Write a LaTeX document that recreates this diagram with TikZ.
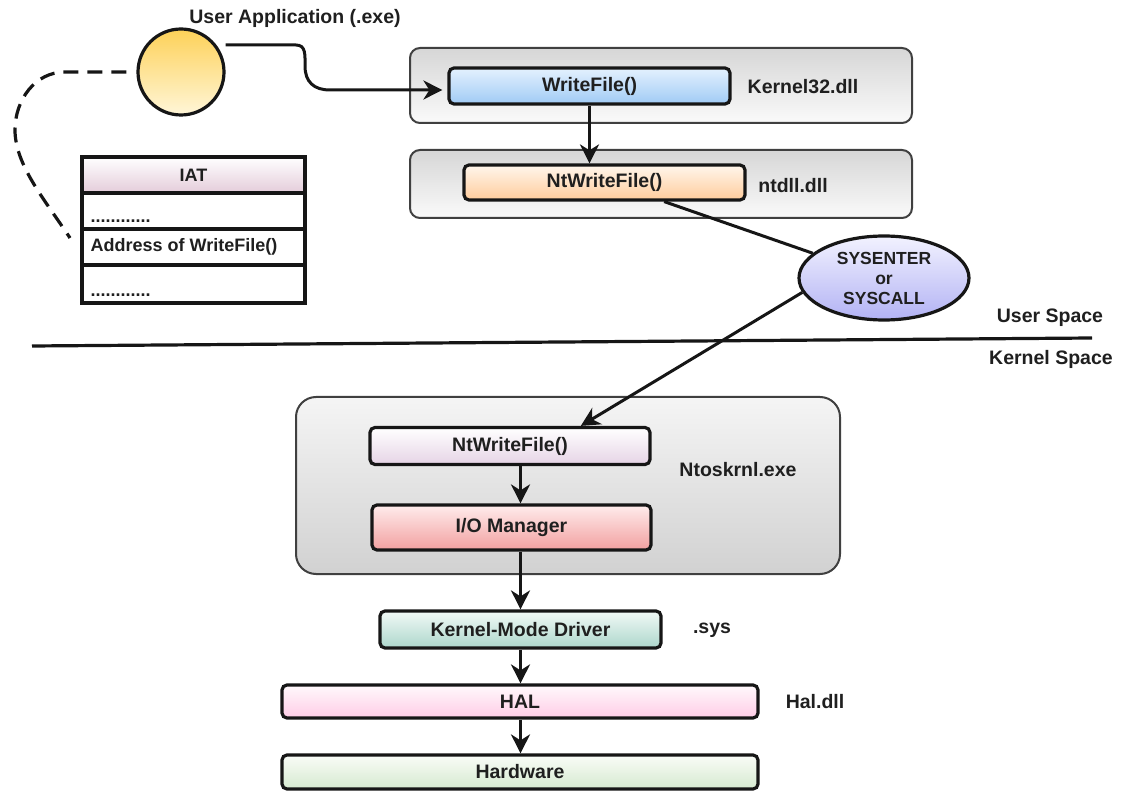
\documentclass[tikz,border=0pt]{standalone}
\usepackage{fontspec}
\setmainfont{Liberation Sans}
\usetikzlibrary{arrows.meta,calc,shapes.geometric}
\definecolor{ink}{HTML}{161616}
\definecolor{txt}{HTML}{1F1F1F}
\begin{document}
\begin{tikzpicture}[x=1pt,y=-1pt,
  lbl/.style={font=\fontsize{19.5}{23}\selectfont\bfseries, text=txt, inner sep=0pt},
  outerbox/.style={draw=black!75, line width=2pt, rounded corners=10pt, inner sep=0pt},
  fnbox/.style={draw=ink, line width=3.2pt, rounded corners=5pt, inner sep=0pt,
    font=\fontsize{19.5}{23}\selectfont\bfseries, text=txt},
  iatrow/.style={draw=ink, line width=3.2pt, inner sep=0pt, minimum width=223pt},
  arr/.style={draw=ink, line width=3pt, -{Stealth[length=19pt,width=19pt,inset=6pt]}},
  plainlink/.style={draw=ink, line width=3pt},
  dashlink/.style={draw=ink, line width=3.2pt, dash pattern=on 15pt off 9pt}
]
\useasboundingbox (0,0) rectangle (1128,791);

% ---- outer containers
\node[outerbox, top color=black!16, bottom color=black!2, minimum width=502pt, minimum height=75pt] (k32box) at (661,85.5) {};
\node[outerbox, top color=black!16, bottom color=black!2, minimum width=502pt, minimum height=68pt] (ntdllbox) at (661,184) {};
\node[outerbox, rounded corners=20pt, top color=black!4, bottom color=black!18, minimum width=544pt, minimum height=177pt] (ntosbox) at (568,485.5) {};

% ---- user application
\node[circle, draw=ink, line width=3.2pt, minimum size=86pt, inner sep=0pt,
  top color={rgb,255:red,253;green,209;blue,88}, bottom color={rgb,255:red,255;green,246;blue,216}] (app) at (181,72) {};
\node[lbl] (applbl) at (295,18) {User Application (.exe)};

% ---- IAT table
\node[iatrow, minimum height=36pt, top color=white, bottom color={rgb,255:red,228;green,204;blue,218}, font=\fontsize{18}{22}\selectfont\bfseries, text=txt] (iathead) at (193.5,175) {IAT};
\node[iatrow, minimum height=36pt, fill=white] (iatr1) at (193.5,211) {};
\node[iatrow, minimum height=36pt, fill=white] (iatr2) at (193.5,247) {};
\node[iatrow, minimum height=38pt, fill=white] (iatr3) at (193.5,284) {};
\node[lbl, font=\fontsize{18}{22}\selectfont\bfseries, anchor=base west] (dots1) at ($(iatr1.south west)+(10,-8)$) {............};
\node[lbl, font=\fontsize{18}{22}\selectfont\bfseries, anchor=west] (addr) at ($(iatr2.west)+(10,0)$) {Address of WriteFile()};
\node[lbl, font=\fontsize{18}{22}\selectfont\bfseries, anchor=base west] (dots2) at ($(iatr3.south west)+(10,-8)$) {............};

% ---- user-mode functions
\node[fnbox, top color={rgb,255:red,228;green,241;blue,254}, bottom color={rgb,255:red,160;green,203;blue,245}, minimum width=281pt, minimum height=36pt] (wf) at (589.5,86) {WriteFile()};
\node[lbl] (k32lbl) at (803,87) {Kernel32.dll};
\node[fnbox, top color={rgb,255:red,255;green,246;blue,236}, bottom color={rgb,255:red,255;green,204;blue,156}, minimum width=281pt, minimum height=35pt] (ntw) at (604.5,182.5) {NtWriteFile()};
\node[lbl] (ntdlllbl) at (793,186) {ntdll.dll};

% ---- syscall ellipse
\node[ellipse, draw=ink, line width=3.2pt, minimum width=170pt, minimum height=84pt, inner sep=0pt,
  top color={rgb,255:red,242;green,242;blue,255}, bottom color={rgb,255:red,178;green,178;blue,244},
  align=center, font=\fontsize{17.5}{20}\selectfont\bfseries, text=txt] (sys) at (884,278) {SYSENTER\\or\\SYSCALL};

% ---- user / kernel separator
\coordinate (sepL) at (32,346);
\coordinate (sepR) at (1092,338);
\draw[ink, line width=3.2pt] (sepL) -- (sepR);
\node[lbl] (uslbl) at (1050,318) {User Space};
\node[lbl] (kslbl) at (1051,359) {Kernel Space};

% ---- kernel
\node[fnbox, top color=white, bottom color={rgb,255:red,230;green,212;blue,230}, minimum width=280pt, minimum height=37pt] (kntw) at (510,446) {NtWriteFile()};
\node[fnbox, top color={rgb,255:red,255;green,236;blue,236}, bottom color={rgb,255:red,242;green,160;blue,160}, minimum width=279pt, minimum height=45pt] (iom) at (511.5,527.5) {I/O Manager};
\node[lbl] (ntoslbl) at (738,470) {Ntoskrnl.exe};

\node[fnbox, top color={rgb,255:red,242;green,250;blue,247}, bottom color={rgb,255:red,172;green,214;blue,203}, minimum width=281pt, minimum height=37pt] (kmd) at (520.5,629.5) {Kernel-Mode Driver};
\node[lbl] (syslbl) at (712,630) {.sys};
\node[fnbox, top color={rgb,255:red,255;green,249;blue,252}, bottom color={rgb,255:red,255;green,204;blue,230}, minimum width=476pt, minimum height=33pt] (hal) at (520,701.5) {HAL};
\node[lbl] (hallbl) at (815,702) {Hal.dll};
\node[fnbox, top color={rgb,255:red,249;green,252;blue,247}, bottom color={rgb,255:red,214;green,234;blue,208}, minimum width=476pt, minimum height=34pt] (hw) at (520,772) {Hardware};

% ---- connectors
\coordinate (iatlink) at (70,238);
\draw[dashlink] ($(app.west)+(-10,0)$) -- (65,72) .. controls (35,72) and (15,100) .. (15,130)
  .. controls (15,165) and (45,200) .. (iatlink);
\draw[arr] ($(app.east)+(0,-27)$) -- (296,45) .. controls (306,45) and (305,55) .. (305,66)
  .. controls (305,82) and (314,90) .. (330,90) -- ($(wf.west)+(-5,4)$);
\draw[arr] (wf.south) -- (wf.south |- ntw.north);
\draw[plainlink] ($(ntw.south west)!0.71!(ntw.south east)$) -- (sys);
\draw[arr] (sys.190) -- ($(kntw.north west)!0.75!(kntw.north east)$);
\draw[arr] (kntw.south -| kmd.north) -- (iom.north -| kmd.north);
\draw[arr] (iom.south -| kmd.north) -- (kmd.north);
\draw[arr] (kmd.south) -- (hal.north -| kmd.south);
\draw[arr] (hal.south -| kmd.south) -- (hw.north -| kmd.south);
\end{tikzpicture}
\end{document}
